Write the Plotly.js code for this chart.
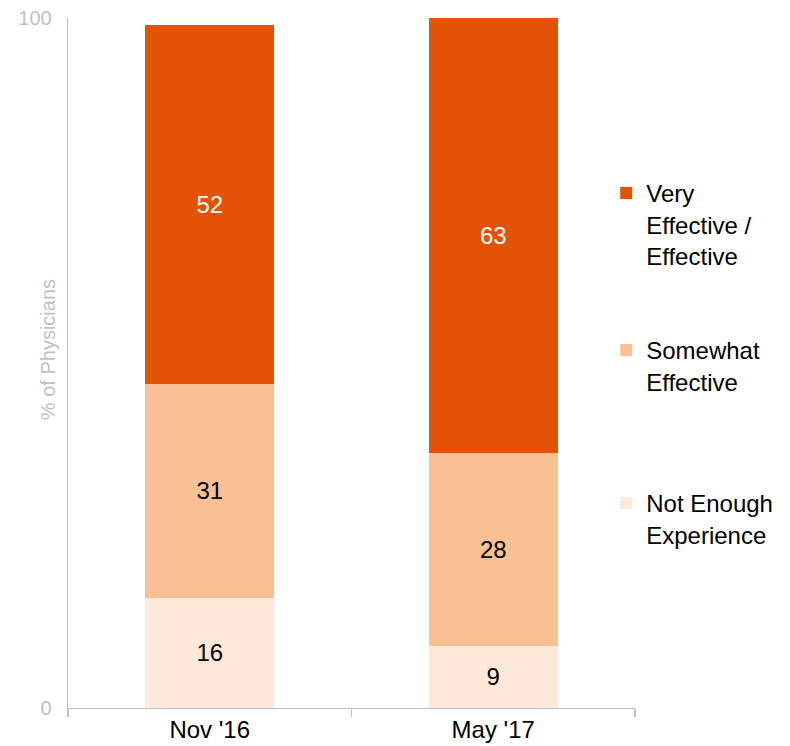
<!DOCTYPE html>
<html>
<head>
<meta charset="utf-8">
<script src="https://cdn.plot.ly/plotly-3.0.1.min.js"></script>
<style>html,body{margin:0;padding:0;background:#fff;}#chart{width:790px;height:746px;}</style>
</head>
<body>
<div id="chart"></div>
<script>
const categories = ["Nov '16", "May '17"];
const notEnough = [16, 9];
const somewhat = [31, 28];
const veryEffective = [52, 63];
const seriesNames = ["Not Enough<br>Experience", "Somewhat<br>Effective", "Very<br>Effective /<br>Effective"];
const yTickVals = [0, 100];

const FONT = "Liberation Sans, Arial, sans-serif";
const grey = "#bfbfbf";

function bar(name, vals, color, textColor, legendId) {
  return {
    type: "bar", name: name, x: categories, y: vals,
    marker: {color: color, line: {width: 0}},
    text: vals.map(String), textposition: "inside", insidetextanchor: "middle",
    textangle: 0, constraintext: "none",
    textfont: {family: FONT, size: 24, color: textColor},
    hoverinfo: "skip", legend: legendId
  };
}

const data = [
  bar(seriesNames[0], notEnough, "#FDE8DA", "#000000", "legend3"),
  bar(seriesNames[1], somewhat, "#F9C193", "#000000", "legend2"),
  bar(seriesNames[2], veryEffective, "#E35205", "#ffffff", "legend")
];

const PW = 571;
const legendBase = {
  x: (610 - 68) / PW, xanchor: "left", yanchor: "top", valign: "top",
  font: {family: FONT, size: 24, color: "#000"}, bgcolor: "rgba(0,0,0,0)", borderwidth: 0,
  itemclick: false, itemdoubleclick: false
};
function pyToPaper(py) { return (708 - py) / 690; }

const layout = {
  width: 790, height: 746,
  margin: {l: 68, r: 790 - 68 - PW, t: 18, b: 38},
  paper_bgcolor: "#fff", plot_bgcolor: "#fff",
  font: {family: FONT},
  barmode: "stack", bargap: 0.546,
  showlegend: true,
  legend: Object.assign({}, legendBase, {y: pyToPaper(171)}),
  legend2: Object.assign({}, legendBase, {y: pyToPaper(328)}),
  legend3: Object.assign({}, legendBase, {y: pyToPaper(481)}),
  xaxis: {
    type: "category", showline: true, linecolor: grey, linewidth: 1.3,
    ticks: "outside", tickson: "boundaries", ticklen: 8, tickcolor: grey, tickwidth: 1.3,
    tickfont: {family: FONT, size: 24, color: "#000"}, showgrid: false, zeroline: false,
    fixedrange: true
  },
  yaxis: {
    range: [0, 100], tickvals: yTickVals, ticktext: yTickVals.map(String),
    showline: true, linecolor: grey, linewidth: 1.3, ticks: "", showgrid: false, zeroline: false,
    tickfont: {family: FONT, size: 20, color: grey}, ticklabelstandoff: 11, fixedrange: true
  },
  annotations: [{
    text: "% of Physicians", textangle: -90, xref: "paper", yref: "paper",
    x: (48 - 68) / PW, y: pyToPaper(350), xanchor: "center", yanchor: "middle",
    showarrow: false, font: {family: FONT, size: 20, color: grey}
  }]
};

Plotly.newPlot("chart", data, layout, {displayModeBar: false, staticPlot: true});
</script>
</body>
</html>
